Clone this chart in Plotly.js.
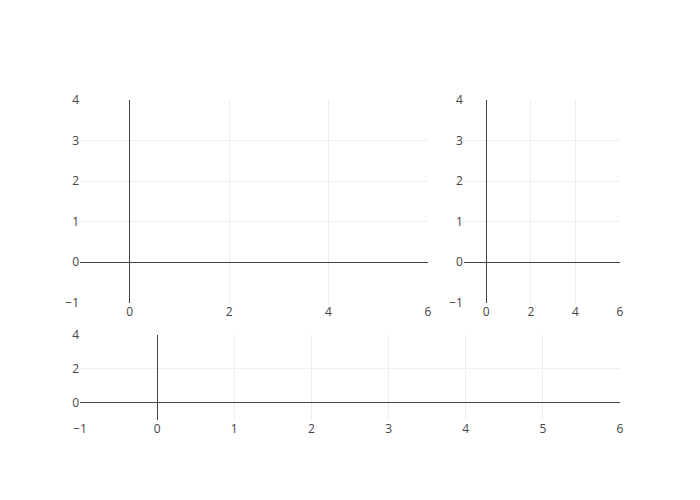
<!DOCTYPE html>
<html>
<head>
<meta charset="utf-8">
<script src="https://cdn.plot.ly/plotly-3.0.1.min.js"></script>
<style>body{margin:0;padding:0;}</style>
</head>
<body>
<div id="chart" style="width:700px;height:500px;"></div>
<script>
// Empty subplots (no data in the reference); default ranges used by Plotly.
var xEmpty = [];
var yEmpty = [];

var traces = [
  {x: xEmpty, y: yEmpty, type: 'scatter', xaxis: 'x', yaxis: 'y'},
  {x: xEmpty, y: yEmpty, type: 'scatter', xaxis: 'x2', yaxis: 'y2'},
  {x: xEmpty, y: yEmpty, type: 'scatter', xaxis: 'x3', yaxis: 'y3'}
];

var layout = {
  width: 700,
  height: 500,
  showlegend: false,
  xaxis: {domain: [0, 0.6444], anchor: 'y'},
  yaxis: {domain: [0.3667, 1], anchor: 'x'},
  xaxis2: {domain: [0.7111, 1], anchor: 'y2'},
  yaxis2: {domain: [0.3667, 1], anchor: 'x2'},
  xaxis3: {domain: [0, 1], anchor: 'y3'},
  yaxis3: {domain: [0, 0.2667], anchor: 'x3'}
};

Plotly.newPlot('chart', traces, layout, {displayModeBar: false});
</script>
</body>
</html>
